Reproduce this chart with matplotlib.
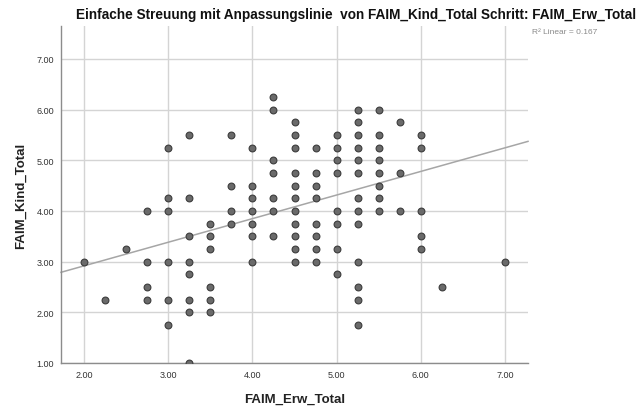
import matplotlib
matplotlib.use("Agg")
import matplotlib.pyplot as plt
import numpy as np

plt.rcParams['font.family'] = ['Liberation Sans', 'DejaVu Sans']

# Data (x = FAIM_Erw_Total, y = FAIM_Kind_Total)
columns = {
    2.00: [3.0],
    2.25: [2.25],
    2.50: [3.25],
    2.75: [4.0, 3.0, 2.5, 2.25],
    3.00: [5.25, 4.25, 4.0, 3.0, 2.25, 1.75],
    3.25: [5.5, 4.25, 3.5, 3.0, 2.75, 2.25, 2.0, 1.0],
    3.50: [3.75, 3.5, 3.25, 2.5, 2.25, 2.0],
    3.75: [5.5, 4.5, 4.0, 3.75],
    4.00: [5.25, 4.5, 4.25, 4.0, 3.75, 3.5, 3.0],
    4.25: [6.25, 6.0, 5.0, 4.75, 4.25, 4.0, 3.5],
    4.50: [5.75, 5.5, 5.25, 4.75, 4.5, 4.25, 4.0, 3.75, 3.5, 3.25, 3.0],
    4.75: [5.25, 4.75, 4.5, 4.25, 3.75, 3.5, 3.25, 3.0],
    5.00: [5.5, 5.25, 5.0, 4.75, 4.0, 3.75, 3.25, 2.75],
    5.25: [6.0, 5.75, 5.5, 5.25, 5.0, 4.75, 4.25, 4.0, 3.75, 3.0, 2.5, 2.25, 1.75],
    5.50: [6.0, 5.5, 5.25, 5.0, 4.75, 4.5, 4.25, 4.0],
    5.75: [5.75, 4.75, 4.0],
    6.00: [5.5, 5.25, 4.0, 3.5, 3.25],
    6.25: [2.5],
    7.00: [3.0],
}
x_vals = [x for x, ys in columns.items() for _ in ys]
y_vals = [y for ys in columns.values() for y in ys]

fit_intercept = 1.985
fit_slope = 0.466
r2_text = "R\u00b2 Linear = 0.167"

x_ticks = [2, 3, 4, 5, 6, 7]
y_ticks = [1, 2, 3, 4, 5, 6, 7]
title = "Einfache Streuung mit Anpassungslinie  von FAIM_Kind_Total Schritt: FAIM_Erw_Total"
x_label = "FAIM_Erw_Total"
y_label = "FAIM_Kind_Total"

fig = plt.figure(figsize=(6.38, 4.10), dpi=100)
ax = fig.add_axes([0.0956, 0.1122, 0.8276 - 0.0956, 0.934 - 0.1122])

xlim = (1.727, 7.273)
ylim = (1.0, 7.65)
ax.set_xlim(*xlim)
ax.set_ylim(*ylim)

ax.set_xticks(x_ticks)
ax.set_yticks(y_ticks)
ax.set_xticklabels([f"{t:.2f}" for t in x_ticks])
ax.set_yticklabels([f"{t:.2f}" for t in y_ticks])
ax.tick_params(axis='both', length=0, labelsize=6.5, labelcolor='#333333')
ax.tick_params(axis='x', pad=5)
ax.tick_params(axis='y', pad=5)

ax.grid(True, color='#d4d4d4', linewidth=1.0)
ax.set_axisbelow(True)
for s in ['top', 'right']:
    ax.spines[s].set_visible(False)
for s in ['left', 'bottom']:
    ax.spines[s].set_color('#8c8c8c')
    ax.spines[s].set_linewidth(1.0)

xs = np.array(xlim)
ax.plot(xs, fit_intercept + fit_slope * xs, color='#a6a6a6', linewidth=1.1, zorder=2, clip_on=False)

ax.scatter(x_vals, y_vals, s=24, facecolor='#6a6a6a', edgecolor='#3c3c3c', linewidth=0.8, zorder=3, clip_on=True)

ax.set_xlabel(x_label, fontsize=9.5, fontweight='bold', color='#222222', labelpad=10)
ax.set_ylabel(y_label, fontsize=9.5, fontweight='bold', color='#222222', labelpad=7)

fig.text(0.558, 0.963, title, ha='center', va='center', fontsize=9.8, fontweight='bold', color='#111111')
fig.text(0.834, 0.92, r2_text, ha='left', va='center', fontsize=6, color='#8a8a8a')

fig.savefig("out.png", dpi=100)
